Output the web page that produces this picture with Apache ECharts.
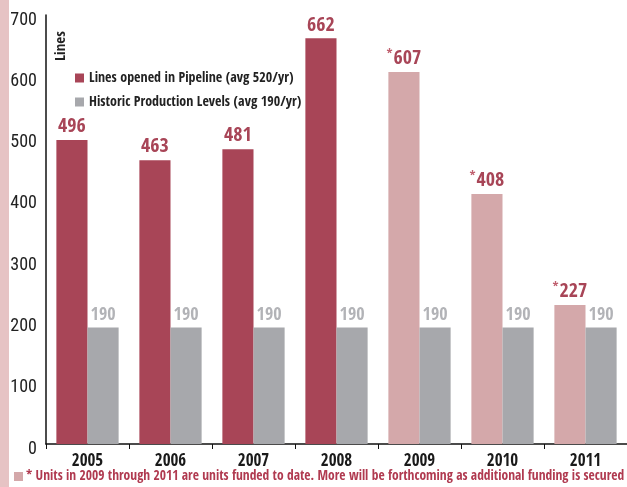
<!DOCTYPE html>
<html><head><meta charset="utf-8">
<script src="https://cdn.jsdelivr.net/npm/echarts@6/dist/echarts.min.js"></script>
<style>html,body{margin:0;padding:0;background:#fff}#c{width:627px;height:487px}</style>
</head><body><div id="c"></div>
<script>
var categories = ['2005','2006','2007','2008','2009','2010','2011'];
var pipeline = [496, 463, 481, 662, 607, 408, 227];
var historic = [190, 190, 190, 190, 190, 190, 190];
var fundedFlag = [false, false, false, false, true, true, true];
var yTicks = [0, 100, 200, 300, 400, 500, 600, 700];
var legendNames = ['Lines opened in Pipeline (avg 520/yr)', 'Historic Production Levels (avg 190/yr)'];
var footnote = '* Units in 2009 through 2011 are units funded to date. More will be forthcoming as additional funding is secured';

var FONT = '"Open Sans Condensed", "Roboto Condensed", sans-serif';
var FONT_REG = '"Roboto Condensed", sans-serif';
var RED = '#a84557', PINK = '#d4a8aa', GRAY = '#a7a8ac';

var chart = echarts.init(document.getElementById('c'));
chart.setOption({
  animation: false,
  textStyle: { fontFamily: FONT },
  grid: { left: 46, right: 0, top: 15, bottom: 43, containLabel: false },
  legend: {
    orient: 'vertical', left: 70, top: 66, itemWidth: 9, itemHeight: 9, itemGap: 10,
    icon: 'rect',
    textStyle: { fontFamily: FONT, fontWeight: 'bold', fontSize: 14, color: '#222' },
    data: legendNames
  },
  xAxis: {
    type: 'category', data: categories,
    axisLine: { lineStyle: { color: '#111', width: 1.5 } },
    axisTick: { show: true, length: 5, lineStyle: { color: '#111' } },
    axisLabel: { fontFamily: FONT, fontWeight: 'bold', fontSize: 17, color: '#1a1a1a', margin: 9 }
  },
  yAxis: {
    type: 'value', min: 0, max: 700, interval: 100,
    axisLine: { show: true, lineStyle: { color: '#111', width: 1.5 } },
    axisTick: { show: false },
    splitLine: { show: false },
    axisLabel: { margin: 9,
      formatter: function (v) { return yTicks.indexOf(v) >= 0 ? '{v|' + v + '}' : ''; },
      rich: { v: { fontFamily: FONT_REG, fontWeight: 'normal', fontSize: 18, color: '#222',
        padding: [10, 0, 0, 0] } } }
  },
  series: [
    {
      name: legendNames[0], type: 'bar', barGap: '0%', barCategoryGap: '25%',
      itemStyle: { color: RED },
      data: pipeline.map(function (v, i) {
        return { value: v, itemStyle: { color: fundedFlag[i] ? PINK : RED } };
      }),
      label: {
        show: true, position: 'top', distance: 3,
        formatter: function (p) {
          return (fundedFlag[p.dataIndex] ? '{a|*}' : '') + '{b|' + p.value + '}';
        },
        rich: {
          a: { fontFamily: FONT, fontSize: 13, color: '#c0606f', fontWeight: 'bold', padding: [0, 1, 8, 0] },
          b: { fontFamily: FONT, fontSize: 20, color: RED, fontWeight: 'bold' }
        }
      }
    },
    {
      name: legendNames[1], type: 'bar',
      itemStyle: { color: GRAY },
      data: historic,
      label: { show: true, position: 'top', distance: 3, fontFamily: FONT, fontSize: 18,
        fontWeight: 'bold', color: '#b2b3b7' }
    }
  ],
  graphic: [
    { type: 'rect', left: 0, top: 0, shape: { width: 9, height: 487 }, style: { fill: '#e6c3c4' } },
    { type: 'text', x: 54, y: 61, rotation: Math.PI / 2,
      style: { text: 'Lines', fontFamily: FONT, fontWeight: 'bold', fontSize: 15, fill: '#222',
        textAlign: 'left', textVerticalAlign: 'top' } },
    { type: 'rect', left: 14, top: 472, shape: { width: 9, height: 9 }, style: { fill: PINK } },
    { type: 'text', left: 26, top: 469,
      style: { text: footnote, fontFamily: FONT, fontWeight: 'bold', fontSize: 13.5, fill: '#b03a50' } }
  ]
});
</script></body></html>
